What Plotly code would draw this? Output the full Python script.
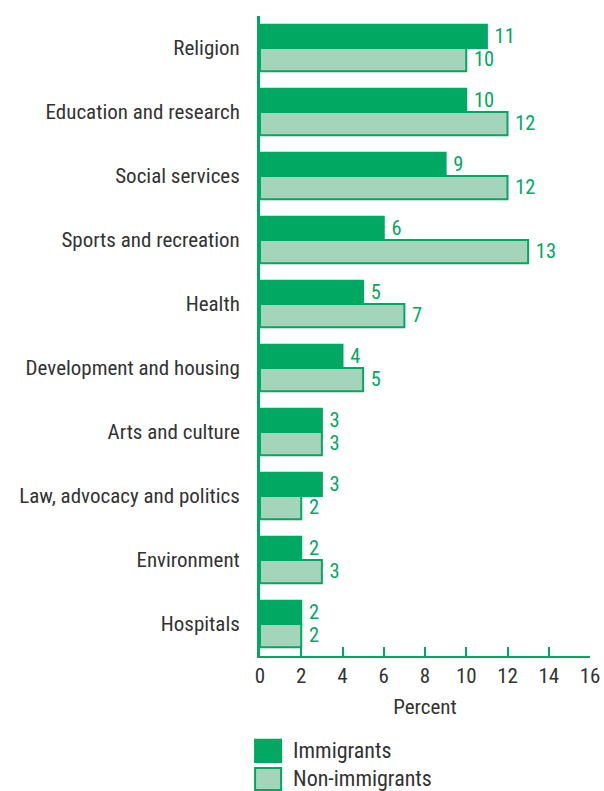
import plotly.graph_objects as go

# Share of volunteers by type of organization
categories = ['Religion', 'Education and research', 'Social services',
              'Sports and recreation', 'Health', 'Development and housing',
              'Arts and culture', 'Law, advocacy and politics',
              'Environment', 'Hospitals']
immigrants = [11, 10, 9, 6, 5, 4, 3, 3, 2, 2]
non_immigrants = [10, 12, 12, 13, 7, 5, 3, 2, 3, 2]
x_ticks = [0, 2, 4, 6, 8, 10, 12, 14, 16]

green = '#00a862'
light_green = '#a3d5bb'
text_grey = '#333333'
font_family = 'Liberation Sans Narrow, Roboto Condensed, Roboto, sans-serif'

# Non-breaking spaces push the value labels away from the bar ends
label_template = '\u00a0%{x}'

fig = go.Figure()
fig.add_trace(go.Bar(
    y=categories, x=immigrants, orientation='h', name='Immigrants',
    marker=dict(color=green, line=dict(color=green, width=2)),
    texttemplate=label_template, textposition='outside', cliponaxis=False,
    textfont=dict(color=green, size=21, family=font_family),
))
fig.add_trace(go.Bar(
    y=categories, x=non_immigrants, orientation='h', name='Non-immigrants',
    marker=dict(color=light_green, line=dict(color=green, width=2)),
    texttemplate=label_template, textposition='outside', cliponaxis=False,
    textfont=dict(color=green, size=21, family=font_family),
))

fig.update_layout(
    width=604, height=791,
    margin=dict(l=260, r=14, t=15.5, b=135),
    barmode='group', bargap=0.27, bargroupgap=0,
    plot_bgcolor='white', paper_bgcolor='white',
    font=dict(family=font_family, color=text_grey, size=20),
    showlegend=False,
)
fig.update_yaxes(
    autorange='reversed', showline=True, linecolor=green, linewidth=3,
    ticks='', ticklabelstandoff=13, tickfont=dict(size=21),
    showgrid=False, zeroline=False, automargin=False,
)
fig.update_xaxes(
    range=[0, 16], tickvals=x_ticks, showline=True, linecolor=green,
    linewidth=2, ticks='inside', ticklen=9, tickwidth=2, tickcolor=green,
    tickfont=dict(size=21), showgrid=False, zeroline=False, automargin=False,
    title=dict(text='Percent', font=dict(size=21), standoff=12),
)

# Custom legend with large swatches below the chart
legend_items = [('Immigrants', green), ('Non-immigrants', light_green)]
for i, (label, color) in enumerate(legend_items):
    y0 = -0.131 - i * 0.044
    fig.add_shape(type='rect', xref='paper', yref='paper',
                  x0=-0.015, x1=0.064, y0=y0 - 0.0345, y1=y0,
                  fillcolor=color, line=dict(color=green, width=2))
    fig.add_annotation(xref='paper', yref='paper', x=0.094, y=y0 - 0.017,
                       text=label, showarrow=False, xanchor='left',
                       yanchor='middle', font=dict(size=22, color=text_grey))

# Drop the default page margin so the figure fills the window exactly
fig.write_html('out.html', config={'displayModeBar': False},
               post_script="document.body.style.margin = '0';")
